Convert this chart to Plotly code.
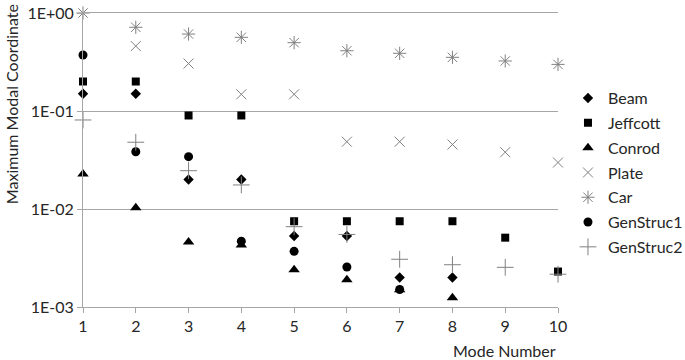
import plotly.graph_objects as go

modes = [1, 2, 3, 4, 5, 6, 7, 8, 9, 10]

beam_x = [1, 2, 3, 4, 5, 6, 7, 8]
beam_y = [0.15, 0.15, 0.02, 0.02, 0.0053, 0.0053, 0.002, 0.002]

jeff_x = [1, 2, 3, 4, 5, 6, 7, 8, 9, 10]
jeff_y = [0.2, 0.2, 0.09, 0.09, 0.0075, 0.0075, 0.0075, 0.0075, 0.0051, 0.0023]

conrod_x = [1, 2, 3, 4, 5, 6, 7, 8]
conrod_y = [0.0228, 0.0103, 0.0046, 0.0043, 0.0024, 0.0019, 0.0015, 0.00124]

plate_x = [2, 3, 4, 5, 6, 7, 8, 9, 10]
plate_y = [0.46, 0.305, 0.148, 0.148, 0.0486, 0.0486, 0.0455, 0.038, 0.0298]

car_x = [1, 2, 3, 4, 5, 6, 7, 8, 9, 10]
car_y = [1.0, 0.715, 0.61, 0.565, 0.498, 0.412, 0.388, 0.353, 0.324, 0.299]

gs1_x = [1, 2, 3, 4, 5, 6, 7]
gs1_y = [0.373, 0.0384, 0.0342, 0.0047, 0.0037, 0.00256, 0.00151]

gs2_x = [1, 2, 3, 4, 5, 6, 7, 8, 9, 10]
gs2_y = [0.081, 0.048, 0.0246, 0.0176, 0.0066, 0.0055, 0.00307, 0.0027, 0.00254, 0.00216]

ytick_vals = [1, 0.1, 0.01, 0.001]
ytick_text = ["1E+00", "1E-01", "1E-02", "1E-03"]

BLACK = "#000000"
GRAY = "#808080"
TEXT = "#262626"
AXIS = "#a6a6a6"

series = [
    ("Beam", beam_x, beam_y, "diamond", 8, BLACK, 0),
    ("Jeffcott", jeff_x, jeff_y, "square", 8, BLACK, 0),
    ("Conrod", conrod_x, conrod_y, "triangle-up", 10, BLACK, 0),
    ("Plate", plate_x, plate_y, "x-thin", 10, GRAY, 1),
    ("Car", car_x, car_y, "asterisk", 11, GRAY, 1),
    ("GenStruc1", gs1_x, gs1_y, "circle", 9, BLACK, 0),
    ("GenStruc2", gs2_x, gs2_y, "cross-thin", 12, GRAY, 1),
]

fig = go.Figure()
for i, (name, xs, ys, sym, size, col, lw) in enumerate(series):
    marker = dict(symbol=sym, size=size, color=col)
    if lw:
        marker["line"] = dict(color=col, width=1)
    else:
        marker["line"] = dict(width=0)
    fig.add_trace(go.Scatter(
        x=xs, y=ys, mode="markers", name=name, marker=marker,
        cliponaxis=False, legendgroup=f"g{i}",
    ))

font = "Lato, Open Sans, sans-serif"
fig.update_layout(
    width=685, height=360,
    margin=dict(l=83, r=127, t=13, b=53, autoexpand=False),
    paper_bgcolor="white", plot_bgcolor="white",
    font=dict(family=font, size=16, color=TEXT),
    showlegend=True,
    legend=dict(x=1.021, y=0.457, xanchor="left", yanchor="middle",
                font=dict(size=16, color=TEXT), tracegroupgap=1,
                itemwidth=30, itemsizing="trace", bgcolor="rgba(0,0,0,0)"),
    xaxis=dict(range=[1, 10], tickvals=modes, showgrid=False,
               showline=True, mirror=True, linecolor=AXIS, linewidth=1,
               ticks="outside", ticklen=5, tickcolor=AXIS,
               tickfont=dict(size=16), zeroline=False),
    yaxis=dict(type="log", range=[-3, 0], tickvals=ytick_vals, ticktext=ytick_text,
               showgrid=True, gridcolor=AXIS, gridwidth=1,
               showline=True, linecolor=AXIS, linewidth=1,
               ticks="outside", ticklen=5, tickcolor=AXIS,
               ticklabeloverflow="allow",
               tickfont=dict(size=16), zeroline=False),
    annotations=[
        dict(text="Maximum Modal Coordinate", textangle=-90, showarrow=False,
             xref="paper", yref="paper", x=0, xshift=-72, y=0.69,
             xanchor="center", yanchor="middle", font=dict(size=16, color=TEXT)),
        dict(text="Mode Number", showarrow=False,
             xref="paper", yref="paper", x=1, y=0, yshift=-43,
             xanchor="right", yanchor="middle", font=dict(size=16, color=TEXT)),
    ],
)

fig.write_html("out.html", config={"displayModeBar": False},
               post_script="document.body.style.margin='0';document.body.style.padding='0';")
